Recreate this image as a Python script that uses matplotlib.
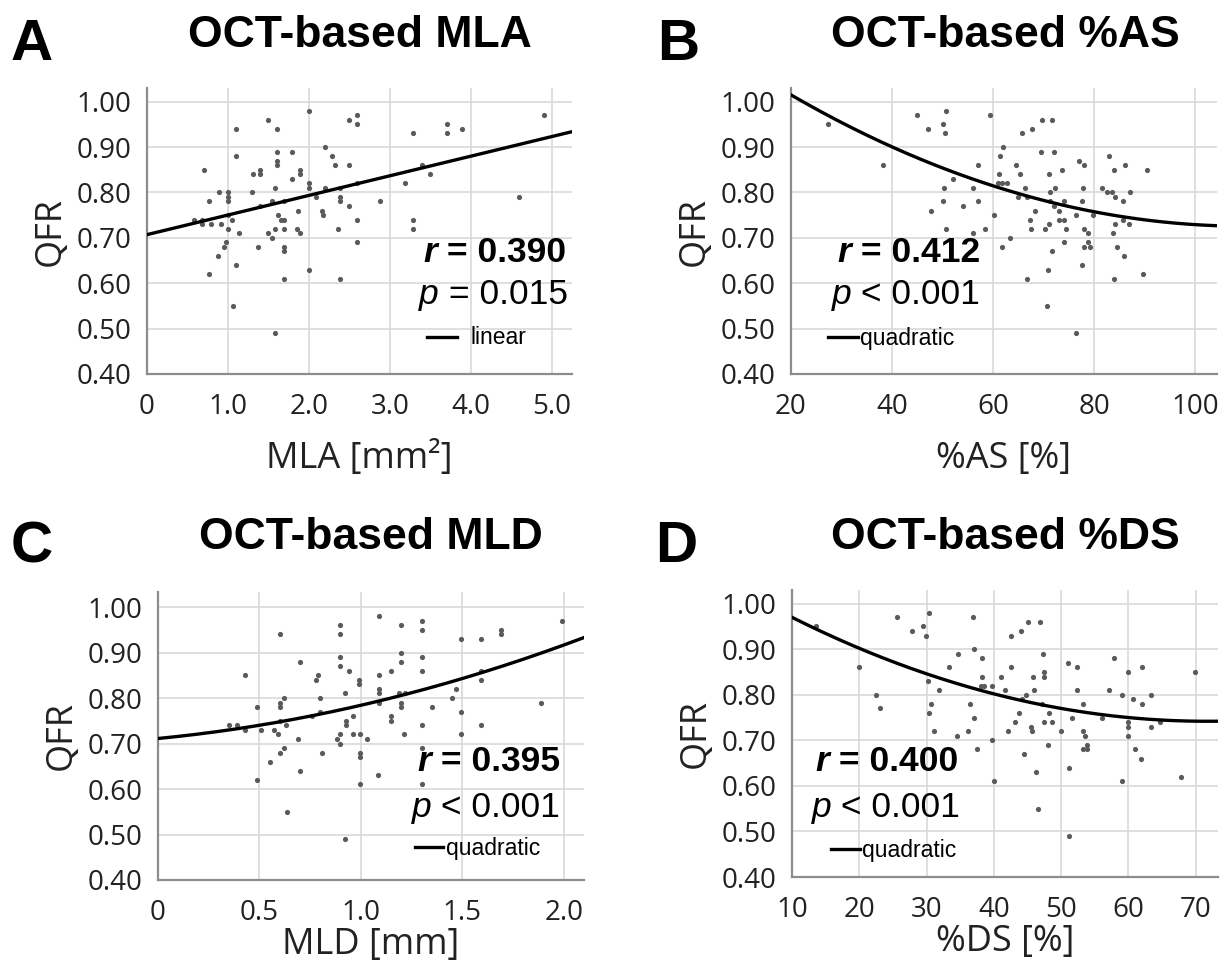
import numpy as np
import matplotlib
matplotlib.use("Agg")
import matplotlib.pyplot as plt
from matplotlib.lines import Line2D

W, H = 1227, 963

# ---- data ----
mla = [2.0, 1.49, 2.49, 2.59, 2.59, 1.10, 1.60, 4.91, 3.70, 3.70,
       3.89, 3.29, 2.20, 1.60, 1.79, 1.10, 2.29, 1.60, 1.60, 2.32,
       2.49, 0.70, 1.40, 1.31, 1.40, 1.89, 1.89, 1.79, 3.40, 3.49,
       3.19, 2.0, 2.0, 2.20, 1.58, 2.59, 2.39, 0.89, 1.0, 1.0,
       1.0, 1.30, 0.76, 2.09, 2.39, 2.39, 2.88, 4.59, 1.40, 1.54,
       1.69, 2.49, 1.87, 0.58, 0.68, 0.68, 0.79, 0.92, 1.05, 1.0,
       1.62, 1.65, 1.69, 2.16, 2.18, 2.59, 3.29, 3.29, 1.0, 1.14,
       1.50, 1.54, 1.58, 1.69, 1.85, 1.89, 2.36, 2.59, 0.97, 0.95,
       1.37, 1.69, 1.69, 0.88, 1.10, 0.77, 2.0, 1.69, 2.39, 1.06,
       1.58]
qfr_mla = [0.98, 0.96, 0.96, 0.97, 0.95, 0.94, 0.94, 0.97, 0.95, 0.93,
           0.94, 0.93, 0.90, 0.89, 0.89, 0.88, 0.88, 0.87, 0.86, 0.86,
           0.86, 0.85, 0.85, 0.84, 0.84, 0.85, 0.84, 0.83, 0.86, 0.84,
           0.82, 0.82, 0.81, 0.81, 0.81, 0.82, 0.81, 0.80, 0.80, 0.79,
           0.78, 0.80, 0.78, 0.79, 0.79, 0.78, 0.78, 0.79, 0.77, 0.78,
           0.78, 0.77, 0.76, 0.74, 0.74, 0.73, 0.73, 0.73, 0.74, 0.75,
           0.75, 0.74, 0.74, 0.76, 0.75, 0.74, 0.74, 0.72, 0.72, 0.71,
           0.71, 0.70, 0.72, 0.72, 0.72, 0.71, 0.72, 0.69, 0.69, 0.68,
           0.68, 0.68, 0.67, 0.66, 0.64, 0.62, 0.63, 0.61, 0.61, 0.55,
           0.49]

pas = [27.4, 38.2, 44.9, 47.2, 50.0, 50.4, 50.6, 52.0, 50.2, 50.0,
       47.7, 50.7, 54.0, 56.0, 57.1, 57.0, 56.1, 58.4, 59.4, 62.0,
       61.3, 61.1, 60.9, 61.7, 62.7, 60.1, 61.8, 63.4, 64.6, 65.7,
       67.7, 65.3, 66.3, 65.0, 66.7, 67.2, 67.5, 68.3, 66.8, 69.6,
       71.6, 69.5, 72.1, 71.1, 71.3, 72.3, 71.3, 72.0, 73.0, 70.3,
       71.0, 71.7, 70.8, 70.6, 73.6, 74.1, 73.1, 74.1, 74.5, 74.1,
       76.4, 76.9, 77.9, 77.8, 77.6, 77.9, 78.7, 78.0, 79.2, 78.7,
       77.6, 76.4, 79.7, 81.5, 82.5, 83.5, 83.0, 83.9, 84.2, 85.7,
       86.1, 87.1, 84.2, 83.8, 85.7, 86.8, 84.6, 85.8, 83.9, 89.6,
       90.4]
qfr_pas = [0.95, 0.86, 0.97, 0.94, 0.95, 0.93, 0.98, 0.83, 0.81, 0.78,
           0.76, 0.72, 0.77, 0.81, 0.86, 0.78, 0.71, 0.72, 0.97, 0.90,
           0.88, 0.84, 0.82, 0.82, 0.82, 0.75, 0.68, 0.70, 0.86, 0.93,
           0.94, 0.84, 0.81, 0.79, 0.79, 0.74, 0.72, 0.76, 0.61, 0.96,
           0.96, 0.89, 0.89, 0.84, 0.80, 0.81, 0.78, 0.77, 0.76, 0.72,
           0.73, 0.67, 0.63, 0.55, 0.85, 0.78, 0.74, 0.74, 0.72, 0.69,
           0.75, 0.87, 0.86, 0.81, 0.78, 0.72, 0.71, 0.68, 0.68, 0.69,
           0.64, 0.49, 0.75, 0.81, 0.80, 0.80, 0.88, 0.85, 0.79, 0.78,
           0.86, 0.80, 0.73, 0.71, 0.74, 0.73, 0.68, 0.66, 0.61, 0.62,
           0.85]

mld = [1.09, 0.895, 0.895, 0.60, 1.20, 1.30, 1.30, 1.99, 1.495, 1.59,
       1.69, 1.69, 0.70, 0.43, 0.895, 0.895, 0.94, 0.79, 0.78, 0.99,
       0.99, 1.09, 1.15, 1.20, 1.20, 1.30, 1.30, 1.59, 1.59, 1.47,
       1.09, 1.09, 1.19, 1.22, 0.92, 0.62, 0.80, 1.45, 1.09, 0.60,
       0.60, 0.49, 1.20, 1.20, 1.35, 1.89, 0.80, 0.76, 0.96, 1.15,
       1.15, 1.495, 0.60, 0.63, 0.925, 0.925, 1.30, 1.59, 0.35, 0.39,
       0.43, 0.51, 0.57, 0.59, 0.69, 0.895, 0.88, 0.895, 0.96, 0.997,
       1.03, 1.215, 1.495, 1.30, 0.60, 0.62, 0.81, 0.997, 0.997, 0.55,
       0.70, 1.085, 0.49, 0.997, 1.30, 0.635, 0.92]
qfr_mld = [0.98, 0.96, 0.94, 0.94, 0.96, 0.97, 0.95, 0.97, 0.93, 0.93,
           0.95, 0.94, 0.88, 0.85, 0.89, 0.87, 0.86, 0.85, 0.84, 0.84,
           0.83, 0.85, 0.86, 0.90, 0.88, 0.89, 0.86, 0.86, 0.84, 0.82,
           0.82, 0.81, 0.81, 0.81, 0.81, 0.80, 0.80, 0.80, 0.79, 0.79,
           0.78, 0.78, 0.79, 0.78, 0.78, 0.79, 0.77, 0.76, 0.76, 0.76,
           0.75, 0.77, 0.75, 0.74, 0.75, 0.74, 0.74, 0.74, 0.74, 0.74,
           0.73, 0.73, 0.73, 0.72, 0.71, 0.72, 0.71, 0.70, 0.72, 0.72,
           0.71, 0.72, 0.72, 0.69, 0.68, 0.69, 0.68, 0.68, 0.67, 0.66,
           0.64, 0.63, 0.62, 0.61, 0.61, 0.55, 0.49]

pds = [13.6, 19.95, 22.5, 23.1, 25.6, 27.9, 29.5, 29.9, 30.4, 30.2,
       30.6, 30.4, 31.1, 31.8, 33.3, 34.6, 34.5, 36.1, 36.9, 37.0,
       36.5, 37.0, 37.5, 38.3, 38.3, 38.1, 38.6, 39.7, 39.7, 39.95,
       41.0, 41.7, 42.5, 44.1, 45.1, 46.9, 42.6, 42.1, 43.2, 43.8,
       44.2, 44.7, 44.5, 45.8, 46.0, 45.5, 45.7, 46.2, 46.6, 47.3,
       47.4, 47.4, 47.2, 48.2, 47.5, 48.6, 48.0, 50.0, 51.0, 52.3,
       51.6, 51.1, 51.1, 52.3, 53.2, 53.2, 53.6, 53.2, 53.9, 53.9,
       57.1, 57.9, 56.1, 59.0, 59.9, 59.1, 59.9, 60.0, 60.0, 60.6,
       62.0, 62.0, 61.0, 61.8, 63.4, 63.4, 64.7, 67.8, 69.9]
qfr_pds = [0.95, 0.86, 0.80, 0.77, 0.97, 0.94, 0.95, 0.93, 0.98, 0.83,
           0.78, 0.76, 0.72, 0.81, 0.86, 0.89, 0.71, 0.72, 0.97, 0.90,
           0.78, 0.75, 0.68, 0.88, 0.84, 0.82, 0.82, 0.82, 0.70, 0.61,
           0.84, 0.81, 0.93, 0.94, 0.96, 0.96, 0.86, 0.72, 0.74, 0.76,
           0.79, 0.80, 0.67, 0.84, 0.81, 0.73, 0.72, 0.63, 0.55, 0.89,
           0.85, 0.84, 0.78, 0.76, 0.74, 0.74, 0.69, 0.72, 0.87, 0.86,
           0.75, 0.64, 0.49, 0.81, 0.78, 0.72, 0.71, 0.68, 0.68, 0.69,
           0.81, 0.88, 0.75, 0.61, 0.85, 0.80, 0.74, 0.73, 0.71, 0.79,
           0.86, 0.78, 0.68, 0.66, 0.80, 0.73, 0.74, 0.62, 0.85]

# fitted curves (polynomial coefficients, highest power first)
fit_mla = [0.0432, 0.707]
fit_pas = [3.59e-5, -0.00788, 1.158]
fit_mld = [0.0297, 0.0433, 0.711]
fit_pds = [6.0e-5, -0.0086, 1.050]

yticks = [0.40, 0.50, 0.60, 0.70, 0.80, 0.90, 1.00]

tick_font = "Open Sans"
txt_font = "Liberation Sans"


def fx(px):
    return px / W


def fy(py):
    return 1 - py / H


def rect(l, t, r, b):
    return [fx(l), fy(b), (r - l) / W, (b - t) / H]


fig = plt.figure(figsize=(W / 100, H / 100), dpi=100)


def panel(box, x, y, fit, xlim, ylim, xt, xtl, xlabel, lpad):
    ax = fig.add_axes(rect(*box))
    ax.set_xlim(*xlim)
    ax.set_ylim(*ylim)
    ax.set_xticks(xt)
    ax.set_xticklabels(xtl, fontfamily=tick_font, fontsize=20, color="#222222")
    ax.set_yticks(yticks)
    ax.set_yticklabels(["%.2f" % v for v in yticks], fontfamily=tick_font,
                       fontsize=20, color="#222222")
    ax.tick_params(length=0)
    ax.tick_params(axis="x", pad=14)
    ax.tick_params(axis="y", pad=11)
    ax.grid(True, color="#d9d9d9", lw=1.2)
    ax.set_axisbelow(True)
    for s in ["top", "right"]:
        ax.spines[s].set_visible(False)
    for s in ["left", "bottom"]:
        ax.spines[s].set_color("#8c8c8c")
        ax.spines[s].set_linewidth(1.6)
    ax.scatter(x, y, s=14, color="#5a5a5a", linewidths=0, zorder=3)
    xs = np.linspace(xlim[0], xlim[1], 200)
    ax.plot(xs, np.polyval(fit, xs), color="black", lw=2.4, zorder=4)
    ax.set_xlabel(xlabel, fontfamily=tick_font, fontsize=26, labelpad=lpad,
                  color="#222222")
    ax.set_ylabel("QFR", fontfamily=tick_font, fontsize=26, labelpad=6,
                  color="#222222")
    return ax


def stats(ax, rval, ptxt, rx, rby, px_, pby):
    t = ax.text(fx(rx), fy(rby), " = " + rval, transform=fig.transFigure,
                ha="right", va="baseline", fontfamily=txt_font,
                fontweight="bold", fontsize=25.5)
    ax.annotate("r", xy=(0, 0), xycoords=t, ha="right", va="bottom",
                fontfamily=txt_font, fontweight="bold", style="italic",
                fontsize=25.5)
    t2 = ax.text(fx(px_), fy(pby), " " + ptxt, transform=fig.transFigure,
                 ha="right", va="baseline", fontfamily=txt_font, fontsize=25.5)
    ax.annotate("p", xy=(0, 0), xycoords=t2, ha="right", va="bottom",
                fontfamily=txt_font, style="italic", fontsize=25.5)


def legend(label, x0, x1, ly, tx):
    fig.add_artist(Line2D([fx(x0), fx(x1)], [fy(ly), fy(ly)],
                          transform=fig.transFigure, color="black", lw=2.4))
    fig.text(fx(tx), fy(ly + 1), label, ha="left", va="center",
             fontfamily=txt_font, fontsize=16.5)


def heading(letter, lx, title, tx, by):
    fig.text(fx(lx), fy(by + 13), letter, ha="left", va="baseline",
             fontfamily=txt_font, fontweight="bold", fontsize=42)
    fig.text(fx(tx), fy(by), title, ha="center", va="baseline",
             fontfamily=txt_font, fontweight="bold", fontsize=32)


# A
axA = panel((147, 88, 572, 374), mla, qfr_mla, fit_mla, (0, 5.25), (0.40, 1.03),
            [0, 1, 2, 3, 4, 5], ["0", "1.0", "2.0", "3.0", "4.0", "5.0"],
            "MLA [mm\u00b2]", 14)
stats(axA, "0.390", "= 0.015", 566, 262, 568, 304)
legend("linear", 427, 457, 337, 470)
heading("A", 11, "OCT-based MLA", 360, 47)

# B
axB = panel((791, 88, 1217, 374), pas, qfr_pas, fit_pas, (20, 104.3), (0.40, 1.03),
            [20, 40, 60, 80, 100], ["20", "40", "60", "80", "100"],
            "%AS [%]", 14)
stats(axB, "0.412", "< 0.001", 980, 262, 980, 304)
legend("quadratic", 828, 858, 337, 860)
heading("B", 657, "OCT-based %AS", 1005, 47)

# C
axC = panel((158, 592, 584, 880), mld, qfr_mld, fit_mld, (0, 2.1), (0.40, 1.033),
            [0, 0.5, 1.0, 1.5, 2.0], ["0", "0.5", "1.0", "1.5", "2.0"],
            "MLD [mm]", 0)
stats(axC, "0.395", "< 0.001", 560, 771, 560, 817)
legend("quadratic", 415, 443, 847, 446)
heading("C", 11, "OCT-based MLD", 371, 549)

# D
axD = panel((792, 590, 1218, 877), pds, qfr_pds, fit_pds, (10, 73.3), (0.40, 1.03),
            [10, 20, 30, 40, 50, 60, 70], ["10", "20", "30", "40", "50", "60", "70"],
            "%DS [%]", 0)
stats(axD, "0.400", "< 0.001", 958, 771, 960, 817)
legend("quadratic", 831, 860, 849, 862)
heading("D", 655, "OCT-based %DS", 1005, 549)

fig.savefig("out.png", dpi=100)
